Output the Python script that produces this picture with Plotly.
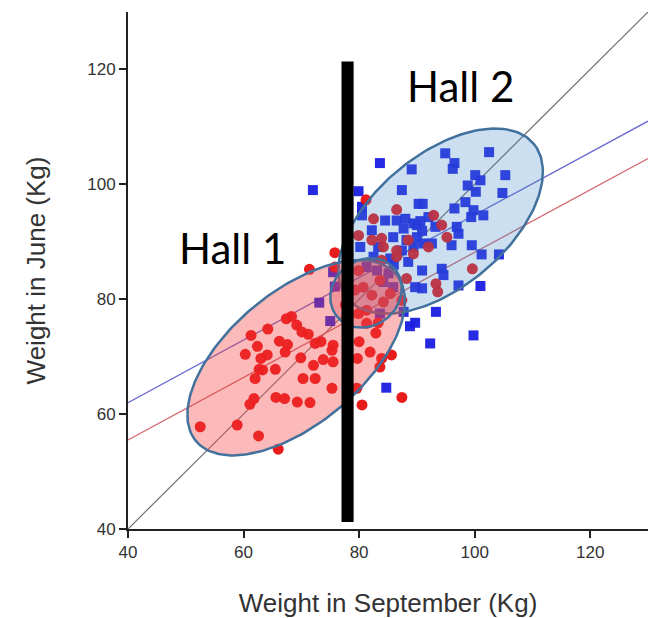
import numpy as np
import plotly.graph_objects as go

# ---- Data (kg) ----
# Hall 1 animals (red circles): weight in September, weight in June
hall1_sep = [52.5, 58.9, 62.6, 66.0, 61.3, 64.2, 62.4, 60.3, 63.0, 64.1,
             66.2, 67.6, 67.2, 67.4, 68.3, 69.2, 70.1, 69.9, 62.7, 65.5,
             62.0, 70.3, 61.8, 61.1, 65.6, 67.1, 69.3, 71.2, 72.4, 73.4,
             75.5, 75.3, 72.1, 73.8, 75.5, 72.4, 75.3, 71.5, 80.0, 79.7,
             81.9, 83.9, 83.6, 82.9, 79.6, 87.4, 80.5, 79.9, 81.3, 81.3,
             83.3, 79.3, 82.2, 84.2, 85.4, 87.4, 81.2, 86.5, 82.5, 79.9,
             83.9, 82.2, 75.8, 71.4, 88.5, 86.5, 83.9, 89.4, 92.9, 94.3,
             95.2, 92.0, 99.6, 93.3, 93.6, 79.9, 80.7, 83.6, 77.6, 75.8,
             88.2, 84.2, 86.5, 85.6, 63.3]
hall1_jun = [57.8, 58.1, 56.2, 53.9, 73.7, 74.8, 71.8, 70.4, 69.7, 70.3,
             72.7, 72.1, 70.8, 76.6, 77.0, 75.5, 74.3, 69.8, 67.8, 67.8,
             66.2, 66.2, 62.7, 61.7, 62.9, 62.7, 62.1, 73.9, 72.3, 72.6,
             72.0, 71.1, 68.5, 69.5, 69.1, 66.2, 64.5, 62.0, 72.6, 69.7,
             70.8, 69.7, 68.2, 74.1, 64.5, 62.9, 61.6, 77.5, 78.1, 75.8,
             75.9, 81.6, 80.7, 79.5, 81.0, 79.8, 97.3, 95.6, 94.0, 91.1,
             90.6, 90.3, 88.1, 85.2, 90.3, 88.5, 86.8, 87.9, 94.6, 92.9,
             90.8, 89.1, 85.3, 82.7, 81.3, 85.0, 82.1, 83.3, 79.0, 85.6,
             83.6, 89.1, 87.4, 70.3, 67.7]

# Hall 2 animals (blue squares)
hall2_sep = [83.6, 89.1, 72.0, 79.9, 87.4, 80.5, 80.5, 84.5, 86.5, 88.0,
             82.2, 85.9, 83.3, 87.7, 89.4, 90.3, 80.2, 87.4, 89.4, 85.4,
             94.9, 102.5, 96.5, 96.2, 100.1, 101.0, 105.3, 98.8, 100.2, 104.8,
             91.0, 98.4, 96.5, 99.8, 99.4, 101.5, 96.9, 97.2, 90.6, 90.9,
             90.0, 96.0, 99.5, 92.0, 93.2, 91.1, 101.2, 104.2, 90.9, 94.3,
             94.6, 90.9, 97.2, 101.0, 93.3, 89.7, 99.8, 92.3, 84.7, 88.8,
             87.7, 89.7, 73.1, 75.0, 83.6, 81.3, 83.1, 85.1, 84.2, 85.9,
             75.5, 75.8, 90.0, 88.2, 92.6, 82.5, 86.0, 88.5]
hall2_jun = [103.7, 102.6, 99.0, 98.8, 99.0, 96.1, 94.6, 93.7, 93.7, 94.0,
             92.0, 90.8, 89.1, 92.3, 93.2, 96.6, 89.1, 88.5, 89.1, 87.1,
             105.4, 105.6, 103.7, 102.7, 101.6, 100.7, 101.6, 99.8, 98.7, 98.5,
             96.6, 96.9, 95.8, 95.5, 94.3, 94.6, 92.6, 91.4, 93.6, 91.9,
             90.8, 89.4, 89.4, 94.3, 92.6, 89.7, 87.8, 87.8, 85.0, 85.3,
             84.2, 81.9, 82.4, 82.3, 77.8, 75.9, 73.7, 72.3, 64.6, 75.3,
             77.8, 82.1, 79.4, 76.2, 77.5, 85.6, 85.0, 84.5, 83.0, 82.1,
             84.7, 82.2, 92.9, 90.3, 89.7, 87.4, 86.0, 86.5]

# Reference lines evaluated at the ends of the x range
fit_x = [40, 130]
identity_y = [40, 130]
hall2_fit_y = [62.0, 111.0]
hall1_fit_y = [55.5, 104.5]

# Confidence ellipses: centre, semi-axes (kg) and tilt (degrees)
hall1_ellipse = dict(cx=69.1, cy=69.8, a=22.6, b=11.5, angle=40)
hall2_ellipse = dict(cx=94.1, cy=93.6, a=21.0, b=11.5, angle=40)
overlap_ellipse = dict(cx=81.2, cy=81.1, a=6.5, b=5.7, angle=40)

# Divider between the two halls
divider_x = 78.0
divider_half_width = 1.05
divider_y = [41.2, 121.4]

# Group labels
label_text = ["Hall 1", "Hall 2"]
label_x = [58.0, 97.6]
label_y = [88.9, 117.2]

axis_range = [40, 130]
tick_vals = [40, 60, 80, 100, 120]


def ellipse_xy(cx, cy, a, b, angle, n=200):
    t = np.linspace(0, 2 * np.pi, n)
    th = np.deg2rad(angle)
    x = cx + a * np.cos(t) * np.cos(th) - b * np.sin(t) * np.sin(th)
    y = cy + a * np.cos(t) * np.sin(th) + b * np.sin(t) * np.cos(th)
    return x, y


fig = go.Figure()

# identity and regression lines
fig.add_trace(go.Scatter(x=fit_x, y=identity_y, mode="lines",
                         line=dict(color="#6e6e6e", width=1.2), hoverinfo="skip"))
fig.add_trace(go.Scatter(x=fit_x, y=hall2_fit_y, mode="lines",
                         line=dict(color="#6a6ad0", width=1.3), hoverinfo="skip"))
fig.add_trace(go.Scatter(x=fit_x, y=hall1_fit_y, mode="lines",
                         line=dict(color="#d06a72", width=1.3), hoverinfo="skip"))

# animals
fig.add_trace(go.Scatter(x=hall2_sep, y=hall2_jun, mode="markers", name="Hall 2",
                         marker=dict(symbol="square", size=10, color="#1a1ee0",
                                     opacity=0.95, line=dict(width=0))))
fig.add_trace(go.Scatter(x=hall1_sep, y=hall1_jun, mode="markers", name="Hall 1",
                         marker=dict(symbol="circle", size=11, color="#e81010",
                                     opacity=0.95, line=dict(width=0))))

# ellipses (translucent, above the points)
outline = dict(color="#41719c", width=2.5)
for params, fill in [(hall2_ellipse, "rgba(70,140,200,0.28)"),
                     (hall1_ellipse, "rgba(245,60,60,0.36)"),
                     (overlap_ellipse, "rgba(225,70,90,0.30)")]:
    ex, ey = ellipse_xy(**params)
    fig.add_trace(go.Scatter(x=ex, y=ey, mode="lines", fill="toself",
                             fillcolor=fill, line=outline, hoverinfo="skip"))

# thick vertical divider
fig.add_shape(type="rect", xref="x", yref="y",
              x0=divider_x - divider_half_width, x1=divider_x + divider_half_width,
              y0=divider_y[0], y1=divider_y[1],
              fillcolor="black", line=dict(width=0), layer="above")

for txt, lx, ly in zip(label_text, label_x, label_y):
    fig.add_annotation(x=lx, y=ly, text=txt, showarrow=False,
                       xanchor="center", yanchor="middle",
                       font=dict(family="Lato", size=42, color="black"))

axis_common = dict(range=axis_range, tickvals=tick_vals, showgrid=False, zeroline=False,
                   showline=True, linecolor="#222222", linewidth=2, automargin=False,
                   ticks="outside", ticklen=7, tickwidth=2, tickcolor="#222222",
                   tickfont=dict(family="Liberation Sans, Arial", size=17, color="#333333"))

fig.update_layout(
    width=656, height=618,
    margin=dict(l=128, r=8, t=12, b=89),
    paper_bgcolor="white", plot_bgcolor="white",
    showlegend=False,
    xaxis=dict(**axis_common,
               title=dict(text="Weight in September (Kg)", standoff=36,
                          font=dict(family="Liberation Sans, Arial", size=26, color="#333333"))),
    yaxis=dict(**axis_common,
               title=dict(text="Weight in June (Kg)", standoff=34,
                          font=dict(family="Liberation Sans, Arial", size=26, color="#333333"))),
)

fig.write_html("out.html")
